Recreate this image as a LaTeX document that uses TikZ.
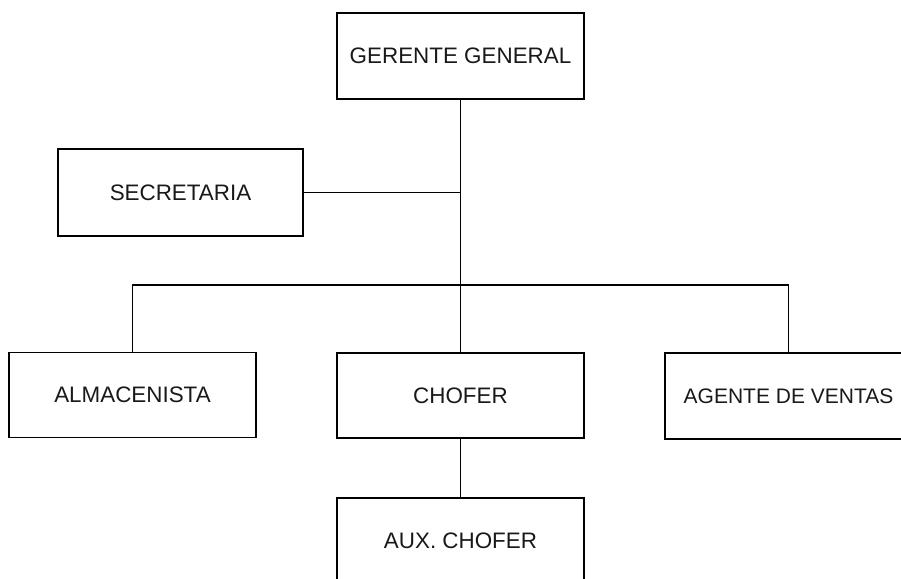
\documentclass[tikz,border=0pt]{standalone}
\usepackage{fontspec}
\setmainfont{Liberation Sans}
\begin{document}
\begin{tikzpicture}[x=1pt,y=-1pt,
  box/.style={draw, line width=1.4pt, rectangle, minimum width=247pt, minimum height=86pt,
    inner sep=0pt, font=\fontsize{22.4}{25}\selectfont, text=black!90},
  link/.style={line width=1.5pt}]
\useasboundingbox (0,0) rectangle (901,578);
\clip (0,0) rectangle (901,578);
\node[box] (ger) at (460.5,56) {GERENTE GENERAL};
\node[box, minimum width=245pt, minimum height=87pt] (sec) at (180.5,192.5) {SECRETARIA};
\node[box, minimum height=85pt] (alm) at (132.5,395) {ALMACENISTA};
\node[box, minimum height=85pt] (cho) at (460.5,395.5) {CHOFER};
\node[box, font=\fontsize{21}{24}\selectfont] (age) at (788.5,396) {AGENTE DE VENTAS};
\node[box] (aux) at (460.5,541) {AUX. CHOFER};
\coordinate (bus) at (460.5,285);
\draw[link] (ger.south) -- (cho.north);
\draw[link] (sec.east) -- (sec.east -| ger.south);
\draw[link] (alm.north) |- (bus) -| (age.north);
\draw[link] (cho.south) -- (aux.north);
\end{tikzpicture}
\end{document}
